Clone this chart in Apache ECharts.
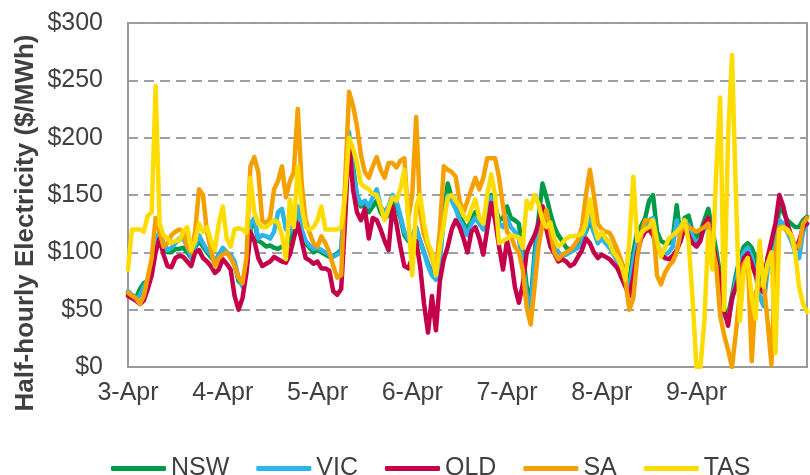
<!DOCTYPE html>
<html>
<head>
<meta charset="utf-8">
<title>Half-hourly electricity prices</title>
<script src="https://cdn.jsdelivr.net/npm/echarts@6/dist/echarts.min.js"></script>
<style>
  html, body { margin: 0; padding: 0; background: #fff; }
  #chart { width: 810px; height: 475px; }
</style>
</head>
<body>
<div id="chart"></div>
<script>
// hourly readings from 3-Apr 00:00 (index = hours since start)
var dayLabels = ['3-Apr', '4-Apr', '5-Apr', '6-Apr', '7-Apr', '8-Apr', '9-Apr'];
var yTicks = [0, 50, 100, 150, 200, 250, 300];

var nsw = [
  64, 62, 60, 68, 73, 75, 90, 108, 115, 106, 100, 100, 103, 103, 104, 100, 95, 104, 110, 105, 100, 96, 92, 98,
  102, 100, 96, 90, 75, 72, 88, 120, 128, 110, 108, 105, 106, 104, 103, 105, 103, 110, 118, 130, 118, 108, 104, 100,
  102, 100, 98, 96, 97, 99, 102, 150, 200, 175, 150, 140, 142, 135, 140, 145, 135, 130, 132, 145, 140, 130, 115, 110,
  112, 120, 110, 100, 90, 82, 78, 95, 135, 160, 148, 140, 132, 125, 120, 128, 135, 130, 125, 140, 150, 140, 128, 130,
  140, 130, 128, 125, 100, 70, 56, 100, 130, 160, 148, 134, 122, 115, 110, 104, 102, 104, 106, 110, 118, 128, 118, 110,
  117, 112, 108, 102, 96, 91, 84, 74, 100, 118, 123, 130, 145, 150, 118, 110, 108, 108, 112, 141, 112, 130, 132, 118,
  112, 118, 128, 138, 120, 102, 80, 50, 45, 62, 80, 95, 105, 108, 104, 95, 80, 72, 95, 104, 110, 140, 135, 128, 125, 122, 122, 128, 131
];
var vic = [
  66, 63, 60, 62, 70, 76, 90, 110, 118, 108, 102, 104, 108, 112, 112, 105, 96, 106, 115, 108, 102, 98, 92, 98,
  104, 100, 98, 92, 78, 70, 85, 125, 130, 112, 115, 114, 112, 118, 135, 138, 120, 118, 125, 140, 120, 110, 106, 103,
  104, 102, 100, 98, 96, 98, 100, 155, 205, 170, 150, 142, 145, 140, 148, 155, 140, 135, 140, 150, 145, 132, 118, 112,
  115, 122, 110, 100, 88, 80, 76, 92, 130, 150, 145, 138, 128, 122, 115, 125, 130, 125, 120, 138, 148, 138, 125, 122,
  130, 122, 118, 112, 92, 62, 50, 92, 120, 140, 132, 120, 108, 100, 97, 98, 100, 102, 104, 108, 120, 135, 118, 108,
  112, 108, 104, 98, 92, 86, 78, 68, 92, 110, 115, 120, 128, 130, 108, 100, 98, 100, 105, 128, 110, 126, 124, 114,
  108, 112, 120, 128, 108, 95, 70, 45, 40, 58, 75, 90, 100, 104, 96, 80, 62, 53, 85, 100, 105, 128, 125, 118, 110, 100, 95, 118, 125
];
var qld = [
  62, 60, 58, 55, 58, 68, 80, 100, 112, 98, 88, 87, 95, 97, 96, 92, 88, 100, 102, 95, 92, 88, 82, 85,
  94, 90, 85, 62, 50, 60, 82, 118, 110, 95, 88, 90, 92, 96, 94, 92, 91, 98, 112, 125, 110, 95, 93, 90,
  92, 86, 86, 84, 66, 63, 68, 128, 198, 155, 135, 128, 138, 112, 130, 128, 120, 110, 102, 140, 125, 105, 88, 86,
  95, 110, 88, 55, 30, 62, 32, 75, 94, 105, 120, 128, 122, 112, 100, 118, 122, 112, 98, 120, 143, 128, 105, 85,
  110, 95, 70, 56, 72, 100, 108, 115, 125, 140, 120, 105, 99, 92, 94, 92, 88, 90, 96, 102, 112, 108, 100, 95,
  98, 96, 94, 90, 86, 78, 70, 62, 78, 100, 112, 118, 120, 115, 104, 98, 95, 94, 97, 102, 110, 122, 115, 108,
  105, 110, 125, 130, 110, 94, 75, 50, 36, 60, 70, 82, 95, 99, 90, 80, 70, 65, 95, 110, 125, 150, 140, 125, 115, 102, 110, 122, 125
];
var sa = [
  65, 62, 60, 55, 62, 78, 95, 130, 118, 105, 108, 115, 118, 120, 118, 105, 100, 118, 155, 150, 118, 102, 88, 95,
  98, 100, 95, 88, 78, 73, 95, 175, 183, 170, 128, 125, 130, 155, 162, 175, 148, 162, 170, 225, 160, 128, 117, 108,
  105, 114, 108, 100, 88, 78, 80, 160, 240, 228, 210, 185, 170, 165, 175, 183, 172, 165, 178, 178, 174, 180, 182, 130,
  150, 218, 135, 115, 105, 95, 82, 120, 175, 172, 170, 166, 145, 135, 145, 155, 165, 155, 165, 182, 182, 182, 165, 140,
  118, 114, 105, 100, 85, 52, 37, 70, 105, 125, 137, 118, 100, 94, 98, 100, 102, 106, 111, 122, 150, 172, 150, 125,
  120, 118, 117, 110, 102, 92, 76, 50, 60, 95, 115, 128, 128, 125, 80, 72, 82, 88, 92, 100, 118, 125, 122, 120,
  118, 120, 122, 125, 105, 88, 45, 28, 15, 0, 30, 65, 90, 95, 5, 65, 72, 75, 40, 2, 100, 122, 122, 118, 115, 105, 105, 125, 130
];
var tas = [
  85, 120, 120, 120, 118, 132, 135, 245, 125, 115, 112, 108, 110, 110, 118, 122, 102, 110, 125, 118, 122, 110, 102, 125,
  140, 112, 105, 120, 121, 120, 117, 165, 135, 125, 122, 122, 125, 128, 126, 115, 94, 146, 122, 175, 140, 122, 120, 122,
  128, 140, 120, 120, 120, 120, 122, 150, 200, 191, 178, 160, 157, 155, 151, 150, 140, 128, 138, 148, 145, 155, 172, 130,
  80, 140, 150, 125, 108, 100, 80, 105, 125, 148, 150, 145, 140, 132, 128, 138, 146, 130, 125, 150, 168, 150, 108, 110,
  112, 115, 114, 113, 104, 145, 138, 150, 142, 128, 122, 126, 112, 105, 108, 112, 114, 114, 115, 116, 125, 146, 125, 112,
  118, 112, 108, 100, 95, 88, 76, 110, 166, 110, 117, 120, 122, 128, 110, 96, 104, 112, 115, 118, 122, 128, 110, 60,
  0, 0, 40, 118, 85, 170, 235, 50, 200, 272, 150, 40, 85, 95, 60, 42, 110, 70, 90, 100, 12, 120, 122, 120, 115, 100, 70, 55, 48
];

var seriesNames = ['NSW', 'VIC', 'QLD', 'SA', 'TAS'];
var seriesValues = [nsw, vic, qld, sa, tas];
var colors = ['#009B48', '#2DB4E8', '#C4004B', '#F4A100', '#FFDC00'];

function toPoints(arr) {
  return arr.map(function (v, i) { return [i, v]; });
}

var chart = echarts.init(document.getElementById('chart'));
var textColor = '#404040';
var font = "'Liberation Sans', Arial, sans-serif";

chart.setOption({
  animation: false,
  color: colors,
  textStyle: { fontFamily: font },
  grid: {
    left: 128, top: 23, right: -2, bottom: 108,
    show: true, borderColor: '#9a9a9a', borderWidth: 2
  },
  legend: {
    data: seriesNames,
    left: 106,
    top: 451,
    icon: 'roundRect',
    itemWidth: 55,
    itemHeight: 5,
    itemGap: 27,
    textStyle: { fontSize: 25, color: textColor }
  },
  xAxis: {
    type: 'value',
    min: 0,
    max: 172,
    interval: 24,
    axisLine: { lineStyle: { color: '#9a9a9a', width: 2 } },
    axisTick: { show: false },
    splitLine: { show: false },
    axisLabel: {
      fontSize: 25,
      color: textColor,
      margin: 14,
      formatter: function (v) {
        if (v % 24 !== 0) return '';
        return dayLabels[v / 24] || '';
      }
    }
  },
  yAxis: {
    type: 'value',
    min: yTicks[0],
    max: yTicks[yTicks.length - 1],
    interval: 50,
    axisLine: { show: true, lineStyle: { color: '#9a9a9a', width: 2 } },
    axisTick: { show: false },
    splitLine: { lineStyle: { color: '#a0a0a0', width: 2, type: [10, 6] } },
    axisLabel: {
      fontSize: 25,
      color: textColor,
      margin: 25,
      formatter: function (v) { return '$' + v; }
    }
  },
  graphic: [{
    type: 'text',
    x: 26,
    y: 223,
    rotation: Math.PI / 2,
    style: {
      text: 'Half-hourly Electricity ($/MWh)',
      font: "bold 26px 'Liberation Sans', Arial, sans-serif",
      fill: textColor,
      align: 'center',
      verticalAlign: 'middle'
    }
  }],
  series: seriesNames.map(function (name, k) {
    return {
      name: name,
      type: 'line',
      data: toPoints(seriesValues[k]),
      symbol: 'none',
      lineStyle: { width: 4.5, join: 'round', cap: 'round' }
    };
  })
});
</script>
</body>
</html>
